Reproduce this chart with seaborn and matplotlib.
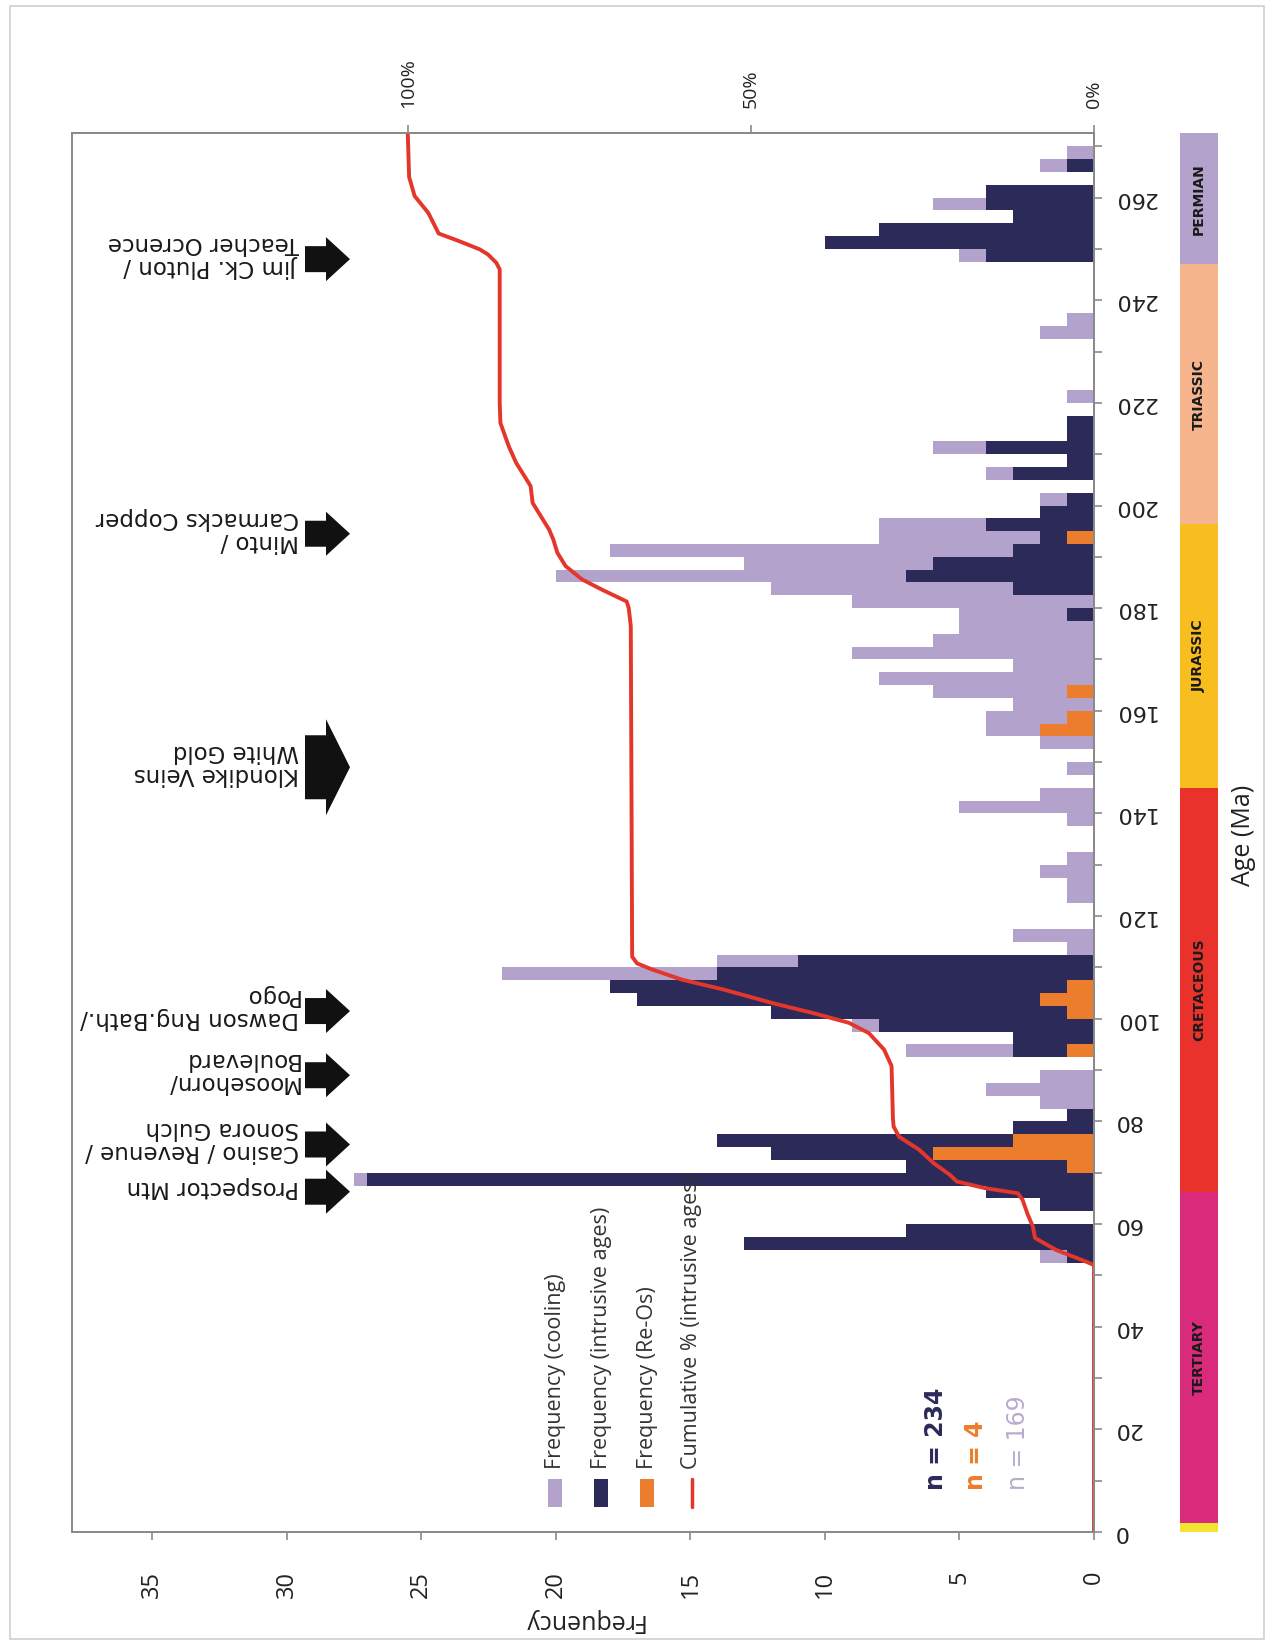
import matplotlib
matplotlib.use("Agg")
import matplotlib.pyplot as plt
from matplotlib.patches import Polygon, Rectangle
from matplotlib.lines import Line2D
import pandas as pd
import seaborn as sns

W, H = 1275, 1647

# 2.5 Ma age bins (lower edges), 0 - 270 Ma
age_bins = [2.5 * i for i in range(109)]

cooling = [
    0, 0, 0, 0, 0, 0, 0, 0, 0, 0,
    0, 0, 0, 0, 0, 0, 0, 0, 0, 0,
    0, 2, 0, 0, 0, 0, 0, 27.5, 0, 0,
    0, 0, 0, 2, 4, 2, 0, 7, 0, 9,
    0, 0, 0, 22, 14, 1, 3, 0, 0, 1,
    1, 2, 1, 0, 0, 1, 5, 2, 0, 1,
    0, 2, 4, 4, 3, 6, 8, 3, 9, 6,
    5, 5, 9, 12, 20, 13, 18, 8, 8, 0,
    2, 0, 4, 0, 6, 0, 0, 0, 1, 0,
    0, 0, 0, 2, 1, 0, 0, 0, 0, 5,
    0, 0, 0, 6, 0, 0, 2, 1, 0,
]
intrusive = [
    0, 0, 0, 0, 0, 0, 0, 0, 0, 0,
    0, 0, 0, 0, 0, 0, 0, 0, 0, 0,
    0, 1, 13, 7, 0, 2, 4, 27, 7, 12,
    14, 3, 1, 0, 0, 0, 0, 3, 3, 8,
    12, 17, 18, 14, 11, 0, 0, 0, 0, 0,
    0, 0, 0, 0, 0, 0, 0, 0, 0, 0,
    0, 0, 0, 0, 0, 0, 0, 0, 0, 0,
    0, 1, 0, 3, 7, 6, 3, 2, 4, 2,
    1, 0, 3, 1, 4, 1, 1, 0, 0, 0,
    0, 0, 0, 0, 0, 0, 0, 0, 0, 4,
    10, 8, 3, 4, 4, 0, 1, 0, 0,
]
re_os = [
    0, 0, 0, 0, 0, 0, 0, 0, 0, 0,
    0, 0, 0, 0, 0, 0, 0, 0, 0, 0,
    0, 0, 0, 0, 0, 0, 0, 0, 1, 6,
    3, 0, 0, 0, 0, 0, 0, 1, 0, 0,
    1, 2, 1, 0, 0, 0, 0, 0, 0, 0,
    0, 0, 0, 0, 0, 0, 0, 0, 0, 0,
    0, 0, 2, 1, 0, 1, 0, 0, 0, 0,
    0, 0, 0, 0, 0, 0, 0, 1, 0, 0,
    0, 0, 0, 0, 0, 0, 0, 0, 0, 0,
    0, 0, 0, 0, 0, 0, 0, 0, 0, 0,
    0, 0, 0, 0, 0, 0, 0, 0, 0,
]

# cumulative % of intrusive ages
cum_age = [0, 52, 52.7, 55, 57.3, 59.5, 62, 64.7, 66, 67, 68.3, 69.6, 71.8, 74.5,
           77, 79, 80.6, 90.8, 94, 97.2, 99.2, 101.1, 103, 105.7, 107.6, 109.6,
           110.8, 112.1, 176.5, 180, 181.3, 183.6, 185.6, 188.2, 190.8, 193.4,
           195.3, 200.5, 203.8, 208.3, 211.6, 216.1, 220, 246, 247.3, 248.9,
           249.9, 251.5, 253, 257, 260.3, 264, 272.5]
cum_pct = [0, 0, 1.2, 5.6, 8.6, 8.9, 9.7, 10.4, 11.1, 15.9, 20, 21, 23.3, 25.5,
           28.4, 29.2, 29.3, 29.5, 30.6, 32.8, 35.7, 40.9, 46.7, 54, 60, 64.4,
           66.6, 67.3, 67.5, 67.8, 68.1, 71.7, 74.6, 77, 78.2, 78.8,
           79.4, 81.8, 82.1, 84.2, 85.3, 86.5, 86.6, 86.6, 87.1, 88.3,
           89.5, 92.5, 95.5, 97, 99, 99.8, 100]

# geological periods (age span in Ma)
period_names = ["", "TERTIARY", "CRETACEOUS", "JURASSIC", "TRIASSIC", "PERMIAN"]
period_start = [-0.5, 1.8, 66.3, 145, 196.4, 247]
period_end = [1.8, 66.3, 145, 196.4, 247, 272.5]
period_colors = ["#f2e530", "#d92a7c", "#e8322b", "#f8be1f", "#f7b58e", "#b3a2cc"]

# deposit annotations
annot_labels = ["Jim Ck. Pluton /\nTeacher Ocrence", "Minto /\nCarmacks Copper",
                "Klondike Veins\nWhite Gold", "Dawson Rng.Bath./\nPogo",
                "Moosehorn/\nBoulevard", "Casino / Revenue /\nSonora Gulch",
                "Prospector Mtn"]
annot_ages = [248, 194.5, 149, 101.5, 89, 75.5, 66.3]
annot_big = [False, False, True, False, False, False, False]

legend_labels = ["Frequency (cooling)", "Frequency (intrusive ages)",
                 "Frequency (Re-Os)", "Cumulative % (intrusive ages)"]
n_labels = ["n = 234", "n = 4", "n = 169"]

C_COOL = "#b3a2cc"
C_NAVY = "#2c2a58"
C_ORANGE = "#ec7d2c"
C_RED = "#e5362b"
C_GRID = "#8a8a8a"

sns.set_style("white")
plt.rcParams["font.family"] = ["DejaVu Sans"]
CAL = ["Open Sans", "DejaVu Sans"]

fig = plt.figure(figsize=(W / 100, H / 100), dpi=100)

ax = fig.add_axes([71.5 / W, 1 - 1532 / H, (1094 - 71.5) / W, (1532 - 133.4) / H])

df = pd.DataFrame({
    "age": [a + 1.25 for a in age_bins],
    "cooling": cooling,
    "intrusive": intrusive,
    "re_os": re_os,
})
for col, colr in [("cooling", C_COOL), ("intrusive", C_NAVY), ("re_os", C_ORANGE)]:
    sns.barplot(data=df, x=col, y="age", orient="y", native_scale=True,
                width=1.0, color=colr, saturation=1, errorbar=None,
                linewidth=0, edgecolor="none", ax=ax)

ax.set_xlim(38, 0)
ax.set_ylim(0, 272.5)
ax.set_xlabel("")
ax.set_ylabel("")
ax.yaxis.tick_right()
ax.set_yticks(range(0, 261, 20))
ax.set_yticks(range(10, 271, 20), minor=True)
ax.set_yticklabels([str(v) for v in range(0, 261, 20)])
ax.tick_params(axis="y", which="both", direction="out", length=6, width=1.2,
               color=C_GRID, right=True, left=False, pad=8)
ax.tick_params(axis="y", labelsize=16, labelrotation=180, labelcolor="#222222")
for lab in ax.get_yticklabels():
    lab.set_va("center")
ax.set_xticks(range(0, 36, 5))
ax.set_xticklabels([str(v) for v in range(0, 36, 5)], family=CAL)
ax.tick_params(axis="x", direction="out", length=6, width=1.2, color=C_GRID,
               labelsize=17, labelrotation=90, pad=22, bottom=True,
               labelcolor="#222222")
for sp in ax.spines.values():
    sp.set_color(C_GRID)
    sp.set_linewidth(1.4)

ax2 = ax.twiny()
sns.lineplot(x=cum_pct, y=cum_age, sort=False, orient="y", estimator=None,
             color=C_RED, linewidth=2.8, ax=ax2)
ax2.set_xlim(149, 0)
ax2.set_ylim(0, 272.5)
ax2.set_xticks([0, 50, 100])
ax2.set_xticklabels(["0%", "50%", "100%"], family=CAL)
ax2.tick_params(axis="x", direction="out", length=6, width=1.2, color=C_GRID,
                labelsize=14, labelrotation=90, pad=12, top=True,
                labelcolor="#222222")
for sp in ax2.spines.values():
    sp.set_color(C_GRID)
    sp.set_linewidth(1.4)

# geological period bar
axp = fig.add_axes([1180 / W, 1 - 1532 / H, 38 / W, (1532 - 133.4) / H])
axp.barh([(s + e) / 2 for s, e in zip(period_start, period_end)],
         [1] * len(period_start),
         height=[e - s for s, e in zip(period_start, period_end)],
         color=period_colors, linewidth=0)
axp.set_xlim(0, 1)
axp.set_ylim(0, 272.5)
axp.axis("off")
for name, s, e in zip(period_names, period_start, period_end):
    if name:
        axp.text(0.5, (s + e) / 2, name, rotation=90, ha="center", va="center",
                 fontsize=10, fontweight="bold", color="#1a1a1a")

# overlay in pixel coordinates (y downwards)
ov = fig.add_axes([0, 0, 1, 1])
ov.set_xlim(0, W)
ov.set_ylim(H, 0)
ov.axis("off")


def age_to_py(age):
    return H - ax.transData.transform((0, age))[1]


# arrows and deposit names
for lab, age, big in zip(annot_labels, annot_ages, annot_big):
    yc = age_to_py(age)
    hh = 48 if big else 22
    sh = 32 if big else 13
    x0, xb, xt = 305, 326, 350
    pts = [(x0, yc - sh), (xb, yc - sh), (xb, yc - hh), (xt, yc),
           (xb, yc + hh), (xb, yc + sh), (x0, yc + sh)]
    ov.add_patch(Polygon(pts, closed=True, color="#111111", lw=0))
    ov.text(299, yc - 4, lab, rotation=180, ha="right", va="center",
            multialignment="left", fontsize=16.5, color="#1a1a1a",
            linespacing=1.0)

# legend
leg_x = [555, 601, 647, 692]
leg_colors = [C_COOL, C_NAVY, C_ORANGE]
for xx, colr in zip(leg_x[:3], leg_colors):
    ov.add_patch(Rectangle((xx - 7, 1479), 14, 28, color=colr, lw=0))
ov.add_line(Line2D([leg_x[3], leg_x[3]], [1479, 1507], color=C_RED, lw=2.5))
for xx, lab in zip(leg_x, legend_labels):
    ov.text(xx, 1469, lab, rotation=90, ha="center", va="bottom",
            fontsize=15.5, family=CAL, color="#333333")

# sample counts
n_x = [936, 976, 1018]
n_colors = [C_NAVY, C_ORANGE, "#b8abd0"]
n_weights = ["bold", "bold", "normal"]
for xx, lab, colr, wt in zip(n_x, n_labels, n_colors, n_weights):
    ov.text(xx, 1490, lab, rotation=90, ha="center", va="bottom",
            fontsize=17, fontweight=wt, color=colr)

ov.text(583, 1620, "Frequency", rotation=180, ha="center", va="center",
        fontsize=18, family=CAL, color="#222222")
ov.text(1244, 835, "Age (Ma)", rotation=90, ha="center", va="center",
        fontsize=18, family=CAL, color="#222222")

ov.add_patch(Rectangle((10, 6), 1254, 1633, fill=False, edgecolor="#cfcfcf", lw=1.2))

fig.savefig("out.png", dpi=100)
